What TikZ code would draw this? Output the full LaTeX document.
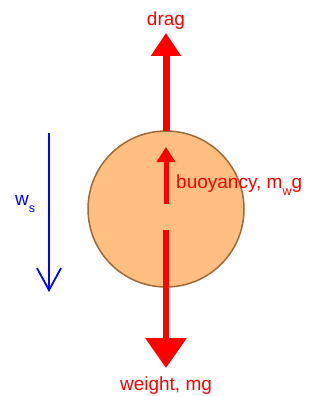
\documentclass[tikz,border=0pt]{standalone}
\usepackage{fontspec}
\setmainfont{Liberation Sans}
\usetikzlibrary{arrows.meta}
\definecolor{ballfill}{HTML}{FFBF80}
\definecolor{ballborder}{HTML}{9C6B3C}
\definecolor{fred}{HTML}{FF0000}
\definecolor{fblue}{HTML}{0000FF}
\tikzset{
  lbl/.style={text=fred, font=\fontsize{19}{21}\selectfont, inner sep=0pt},
  blbl/.style={text=fblue, font=\fontsize{19}{21}\selectfont, inner sep=0pt},
  force/.style={draw=fred, line width=#1},
}
\newcommand{\lowsub}[1]{\raisebox{-7pt}{\fontsize{12.5}{12.5}\selectfont #1}}
\begin{document}
\begin{tikzpicture}[x=1pt,y=-1pt]
\useasboundingbox (0,0) rectangle (321,396);
\node[circle, draw=ballborder, fill=ballfill, line width=1.5pt, minimum size=156pt, inner sep=0pt] (ball) at (166,209) {};
% drag
\coordinate (dragS) at (166,131);
\coordinate (dragE) at (166,33);
\draw[force=7pt, -{Triangle[length=23pt,width=29pt]}] (dragS) -- (dragE);
\node[lbl] (dragl) at (166,21) {drag};
% buoyancy
\coordinate (buoS) at (166,204);
\coordinate (buoE) at (166,147);
\draw[force=5pt, -{Triangle[length=15pt,width=18pt]}] (buoS) -- (buoE);
\node[lbl, anchor=west] (buol) at (176,185) {buoyancy, m\lowsub{w}g};
% weight
\coordinate (wS) at (166,230);
\coordinate (wE) at (166,368);
\draw[force=6.5pt, -{Triangle[length=30pt,width=40pt]}] (wS) -- (wE);
\node[lbl] (wl) at (166,386) {weight, mg};
% settling velocity
\coordinate (vS) at (49,133);
\coordinate (vE) at (49,292);
\draw[fblue, line width=1.8pt, -{Straight Barb[length=22pt,width=24pt,line width=1.8pt]}] (vS) -- (vE);
\node[blbl, anchor=west] (vl) at (15,204) {w\lowsub{s}};
\end{tikzpicture}
\end{document}
